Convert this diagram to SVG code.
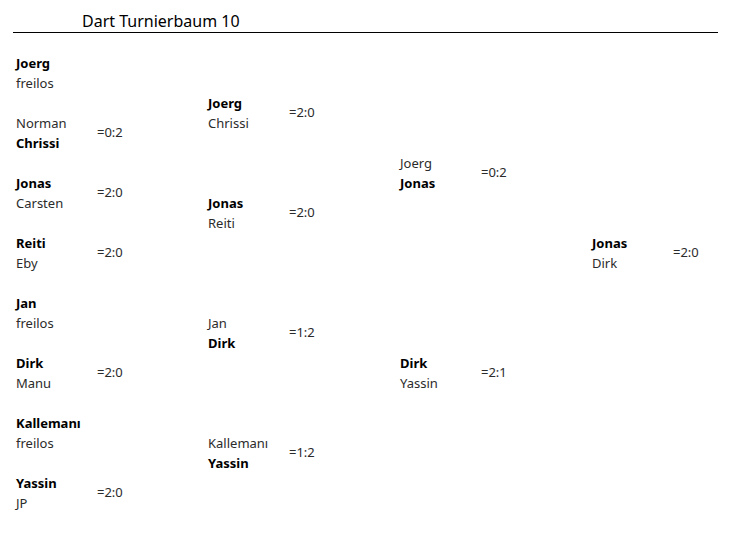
<svg xmlns="http://www.w3.org/2000/svg" width="738" height="539" viewBox="0 0 738 539">
<style>
text{font-family:"Noto Sans","Open Sans","Liberation Sans",sans-serif;font-size:13px;fill:#2b2b2b}
.b{font-weight:bold;fill:#000}
.t{font-size:16px;fill:#000}
</style>
<rect width="738" height="539" fill="#fff"/>
<g id="title">
<text class="t" x="82" y="27">Dart Turnierbaum 10</text>
<line x1="13" y1="32.5" x2="718" y2="32.5" stroke="#000" stroke-width="1"/>
</g>
<g id="connectors"></g>
<g id="r1m1"><text class="b" x="16" y="68">Joerg</text><text x="16" y="88">freilos</text></g>
<g id="r1m2"><text x="16" y="128">Norman</text><text class="b" x="16" y="148">Chrissi</text><text x="97" y="137">=0:2</text></g>
<g id="r1m3"><text class="b" x="16" y="188">Jonas</text><text x="16" y="208">Carsten</text><text x="97" y="197">=2:0</text></g>
<g id="r1m4"><text class="b" x="16" y="248">Reiti</text><text x="16" y="268">Eby</text><text x="97" y="257">=2:0</text></g>
<g id="r1m5"><text class="b" x="16" y="308">Jan</text><text x="16" y="328">freilos</text></g>
<g id="r1m6"><text class="b" x="16" y="368">Dirk</text><text x="16" y="388">Manu</text><text x="97" y="377">=2:0</text></g>
<g id="r1m7"><text class="b" x="16" y="428">Kallemanı</text><text x="16" y="448">freilos</text></g>
<g id="r1m8"><text class="b" x="16" y="488">Yassin</text><text x="16" y="508">JP</text><text x="97" y="497">=2:0</text></g>
<g id="r2m1"><text class="b" x="208" y="108">Joerg</text><text x="208" y="128">Chrissi</text><text x="289" y="117">=2:0</text></g>
<g id="r2m2"><text class="b" x="208" y="208">Jonas</text><text x="208" y="228">Reiti</text><text x="289" y="217">=2:0</text></g>
<g id="r2m3"><text x="208" y="328">Jan</text><text class="b" x="208" y="348">Dirk</text><text x="289" y="337">=1:2</text></g>
<g id="r2m4"><text x="208" y="448">Kallemanı</text><text class="b" x="208" y="468">Yassin</text><text x="289" y="457">=1:2</text></g>
<g id="r3m1"><text x="400" y="168">Joerg</text><text class="b" x="400" y="188">Jonas</text><text x="481" y="177">=0:2</text></g>
<g id="r3m2"><text class="b" x="400" y="368">Dirk</text><text x="400" y="388">Yassin</text><text x="481" y="377">=2:1</text></g>
<g id="final"><text class="b" x="592" y="248">Jonas</text><text x="592" y="268">Dirk</text><text x="673" y="257">=2:0</text></g>
</svg>
